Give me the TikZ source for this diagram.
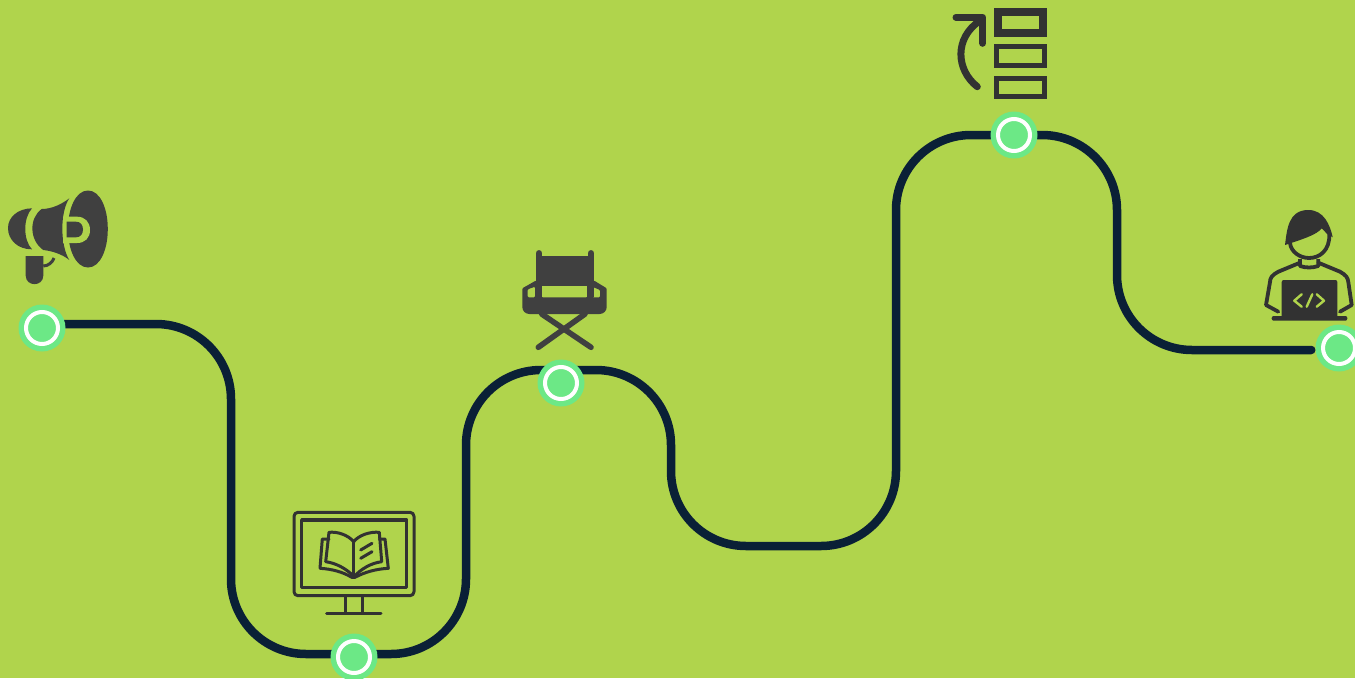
\documentclass[tikz,border=0pt]{standalone}
\usepackage{xcolor}
\usetikzlibrary{backgrounds}
\definecolor{pagegreen}{RGB}{176,212,76}
\definecolor{stopgreen}{RGB}{108,232,134}
\definecolor{roadnavy}{RGB}{10,32,54}
\definecolor{icondark}{RGB}{64,64,64}
\definecolor{iconline}{RGB}{50,50,50}

\begin{document}
\begin{tikzpicture}[
  x=1pt, y=-1pt,
  road/.style={draw=roadnavy, line width=8.5pt, line cap=round, rounded corners=75pt},
  stopdot/.style={circle, fill=stopgreen, inner sep=0pt, minimum size=47pt},
  stopring/.style={circle, draw=white, fill=stopgreen, line width=4pt, inner sep=0pt, outer sep=0pt, minimum size=32pt},
  solidicon/.style={fill=icondark},
  thinicon/.style={draw=iconline, line width=3pt, line join=round, line cap=round},
  stackicon/.style={draw=iconline, line join=miter},
  gapline/.style={draw=pagegreen, line width=2.4pt, line cap=round, line join=round}
]

\useasboundingbox (0,0) rectangle (1355,678);

\foreach \nm/\px/\py in {stopA/42/328, stopB/354/657, stopC/561/383, stopD/1014/135, stopE/1339/348} {
  \node[stopdot] (\nm) at (\px,\py) {};
  \node[stopring] (\nm ring) at (\nm) {};
}

%% Fond et route, sous les points
\begin{scope}[on background layer]
\fill[pagegreen] (0,0) rectangle (1355,678);
\draw[road] ([yshift=4pt]stopA.center) -- (231,324) -- (231,654) -- ([yshift=3pt]stopB.center);
\draw[road] ([yshift=3pt]stopB.center) -- (466,654) -- (466,370) -- ([yshift=13pt]stopC.center);
\draw[road] ([yshift=13pt]stopC.center) -- (671,370) -- (671,546) -- (896,546) -- (896,135) -- (stopD.center);
\draw[road, shorten >=4pt] (stopD.center) -- (1117,135) -- (1117,350) -- ([yshift=-2pt]stopE.west);
\end{scope}

%% Porte-voix
\fill[solidicon] (32,208.3) .. controls (18,208.5) and (8,217) .. (8,228) .. controls (8,240) and (18,249.5) .. (32,249.3) .. controls (23,240) and (23,218) .. (32,208.3) -- cycle;
\fill[solidicon] (41.7,209) .. controls (52,209) and (62,204) .. (69.3,198.3) .. controls (60,212) and (60,245) .. (69.3,260) .. controls (62,254) and (52,251) .. (43.3,250) .. controls (29,240) and (29,218) .. (41.7,209) -- cycle;
\fill[solidicon] (88,190.5) .. controls (76,190.5) and (68,208) .. (68,229) .. controls (68,250) and (76,267.5) .. (88,267.5) .. controls (100,267.5) and (107.8,250) .. (107.8,229) .. controls (107.8,208) and (100,190.5) .. (88,190.5) -- cycle;
\fill[pagegreen] (63,216.7) -- (77,216.7) .. controls (85,216.7) and (90,222) .. (90,230) .. controls (90,238) and (85,243) .. (77,243) -- (63,243) -- cycle;
\fill[solidicon] (66.7,221.7) -- (76,221.7) .. controls (80.5,221.7) and (83,225) .. (83,229.5) .. controls (83,234) and (80.5,237.3) .. (76,237.3) -- (66.7,237.3) -- cycle;
\fill[solidicon] (25.7,256) -- (43.3,256) -- (43.3,275.5) .. controls (43.3,287) and (25.7,287) .. (25.7,275.5) -- cycle;
\draw[icondark, line width=3pt] (43.3,266) .. controls (48,266) and (52.5,262.5) .. (54,258);

%% Moniteur et livre
\draw[thinicon, rounded corners=4pt] (294,512.3) rectangle (414,595.7);
\draw[thinicon, line width=3.4pt, line cap=butt] (301.7,520) rectangle (406.7,587.7);
\draw[thinicon] (345,595.7) -- (345,613.3) (362.7,595.7) -- (362.7,613.3);
\draw[thinicon] (326.7,613.3) -- (381,613.3);
\draw[thinicon] (329,532.3) .. controls (338,531.5) and (348,535) .. (353.7,541.7) .. controls (359,535) and (370,531.5) .. (379.3,532.3) -- (381.7,561.7) .. controls (371,563) and (361,569) .. (354,576.7) .. controls (347,569) and (336,563) .. (325.7,561.7) -- cycle;
\draw[thinicon] (353.7,541.7) -- (353.7,575);
\draw[thinicon] (329,539) -- (322.3,539) -- (320,568.3) .. controls (332,569) and (343,572) .. (351.7,577.3) -- (355,577.3) .. controls (365,572) and (376,569) .. (388.3,568.3) -- (385,539) -- (379.3,539);
\draw[thinicon] (360.7,550) -- (372,543.3) (360.7,558.3) -- (372,551.7);

%% Chaise
\fill[solidicon, even odd rule, rounded corners=1pt] (535.7,280.7) -- (522.3,288.3) -- (522.3,306) [rounded corners=7pt] -- (522.3,314) -- (606.7,314) [rounded corners=1pt] -- (606.7,288.3) -- (594.3,280.7) -- cycle
  (527.7,289.3) -- (535,286.7) -- (535,297.3) -- (527.7,297.3) -- cycle
  (592.3,286.7) -- (600,290) -- (600,297.3) -- (592.3,297.3) -- cycle
  (541.7,285.7) -- (587.3,285.7) -- (587.3,297.3) -- (541.7,297.3) -- cycle;
\fill[solidicon] (535.7,255.7) rectangle (594.3,285.7);
\fill[solidicon] (535.7,285.7) rectangle (541.7,297.3);
\fill[solidicon] (587.3,285.7) rectangle (594.3,297.3);
\fill[pagegreen] (541.7,285.7) rectangle (587.3,297.3);
\draw[icondark, line width=6.5pt, line cap=round] (539,253.3) -- (539,262) (591,253.3) -- (591,262);
\draw[icondark, line width=5.6pt, line cap=round] (538.3,347.3) -- (585,314) (591,347.3) -- (541.7,314);

%% Piles et fleche
\draw[stackicon, line width=7.5pt] (998,12) rectangle (1043,33);
\draw[stackicon, line width=5pt] (996.8,46.8) rectangle (1044.2,65.8);
\draw[stackicon, line width=5pt] (996.8,78.5) rectangle (1044.2,96.8);
\draw[iconline, line width=7pt, line cap=round, line join=round] (956,17.3) -- (982.7,17.3) -- (982.7,43.3);
\draw[iconline, line width=7pt, line cap=round] (980,20.7) .. controls (954,38) and (956,70) .. (977.3,86.7);

%% Developpeur
\fill[iconline] (1285,245) .. controls (1287,230) and (1288,210) .. (1308.3,210) .. controls (1324,210) and (1330,225) .. (1332.7,237.3) -- (1327,234) .. controls (1325,232) and (1323,229) .. (1321.7,228.3) .. controls (1317,235) and (1300,240) .. (1285,245) -- cycle;
\draw[iconline, line width=3.8pt] (1290,243) .. controls (1291,252) and (1300,258) .. (1309,258) .. controls (1320,258) and (1330,250) .. (1329.3,234);
\draw[iconline, line width=3.8pt, line join=round] (1300,259) -- (1300,266) .. controls (1306,268) and (1312,268) .. (1318.3,266) -- (1318.3,259);
\draw[iconline, line width=3.8pt, line cap=round, line join=round] (1300,262.7) -- (1278.3,271.7) .. controls (1272,275) and (1270,278) .. (1270,282) -- (1266,305) -- (1278.3,311.7);
\draw[iconline, line width=3.8pt, line cap=round, line join=round] (1318.3,262.7) -- (1340,271.7) .. controls (1346,275) and (1348,278) .. (1348.3,282) -- (1351.7,305) -- (1340,311.7);
\fill[iconline, rounded corners=2pt] (1281.7,280) rectangle (1337.3,318);
\fill[iconline, rounded corners=2pt] (1271.7,316) rectangle (1347.3,320.7);
\draw[gapline] (1301.7,294.3) -- (1294.3,300.7) -- (1301.7,306.7);
\draw[gapline] (1312.3,294.3) -- (1306.7,306.7);
\draw[gapline] (1316.7,294.3) -- (1324,300.7) -- (1316.7,306.7);

\end{tikzpicture}
\end{document}
